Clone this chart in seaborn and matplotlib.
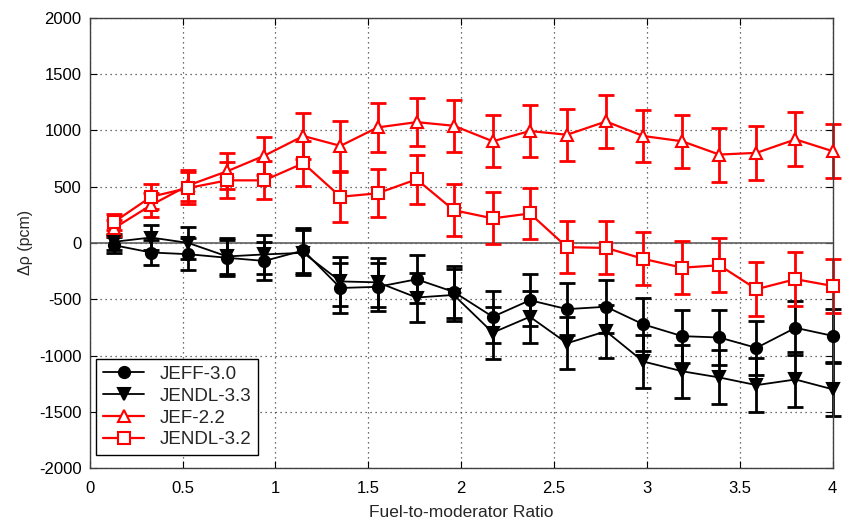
import matplotlib
matplotlib.use("Agg")
import matplotlib.pyplot as plt
import seaborn as sns
import numpy as np
from matplotlib.ticker import FuncFormatter

ratio = [0.13, 0.33, 0.53, 0.74, 0.94, 1.15, 1.35, 1.55, 1.76, 1.96,
         2.17, 2.37, 2.57, 2.78, 2.98, 3.19, 3.39, 3.59, 3.80, 4.00]
jeff30 = [-20, -85, -100, -132, -160, -67, -400, -390, -323, -435,
          -656, -509, -588, -567, -723, -828, -840, -932, -754, -825]
jendl33 = [10, 48, 0, -120, -102, -88, -342, -350, -485, -462,
           -797, -656, -891, -785, -1053, -1140, -1195, -1263, -1213, -1300]
jef22 = [130, 336, 511, 637, 775, 950, 862, 1026, 1073, 1041,
         903, 994, 961, 1079, 950, 903, 785, 800, 920, 815]
jendl32 = [185, 410, 488, 556, 556, 708, 410, 441, 565, 291,
           218, 262, -38, -44, -141, -220, -198, -411, -322, -382]
uncertainty = [70, 110, 140, 160, 170, 200, 220, 215, 215, 230,
               230, 230, 230, 235, 235, 235, 240, 240, 240, 240]

series = [
    ("JEFF-3.0", jeff30, "black", "o", "black", 1.3),
    ("JENDL-3.3", jendl33, "black", "v", "black", 1.3),
    ("JEF-2.2", jef22, "red", "^", "white", 1.6),
    ("JENDL-3.2", jendl32, "red", "s", "white", 1.6),
]

sns.set_style("white")
plt.rcParams['font.family'] = ['Liberation Sans', 'DejaVu Sans']
plt.rcParams['axes.unicode_minus'] = False

fig = plt.figure(figsize=(8.47, 5.23), dpi=100)
ax = fig.add_axes([0.106, 0.105, 0.877, 0.861])

ax.axhline(0, color="#606060", lw=1.2, zorder=1)

for name, vals, col, mk, fc, lw in series:
    cont = ax.errorbar(ratio, vals, yerr=uncertainty, fmt="none", ecolor=col,
                       elinewidth=2, capsize=6, capthick=2, zorder=2)
    for art in cont.lines[1] + cont.lines[2]:
        art.set_clip_on(False)
    sns.lineplot(x=ratio, y=vals, ax=ax, color=col, marker=mk, markersize=8,
                 markerfacecolor=fc, markeredgecolor=col, markeredgewidth=1.5,
                 linewidth=lw, label=name, zorder=3, clip_on=False)

ax.set_xlim(0, 4)
ax.set_ylim(-2000, 2000)
ax.set_xticks(np.arange(0, 4.01, 0.5))
ax.set_yticks(np.arange(-2000, 2001, 500))
ax.xaxis.set_major_formatter(FuncFormatter(lambda v, p: f"{v:g}"))
ax.grid(True, linestyle=(0, (1, 3)), color="#404040", linewidth=0.9)
ax.tick_params(direction="in", length=5, width=0.8, labelsize=12, colors="black",
               top=True, right=True, bottom=True, left=True)
ax.tick_params(axis="y", pad=6)
ax.tick_params(axis="x", pad=9)
for s in ax.spines.values():
    s.set_color("#404040")
    s.set_linewidth(1)

ax.set_xlabel("Fuel-to-moderator Ratio", fontsize=12.5, labelpad=7)
ax.set_ylabel("Δρ (pcm)", fontsize=11.5, labelpad=4)

leg = ax.legend(loc="lower left", bbox_to_anchor=(0.009, 0.029), borderaxespad=0,
                fontsize=13.5, frameon=True, fancybox=False,
                edgecolor="black", handlelength=2.2, labelspacing=0.25,
                borderpad=0.35, handletextpad=0.8)
leg.get_frame().set_linewidth(1)
leg.get_frame().set_alpha(1)

fig.savefig("out.png", dpi=100)
